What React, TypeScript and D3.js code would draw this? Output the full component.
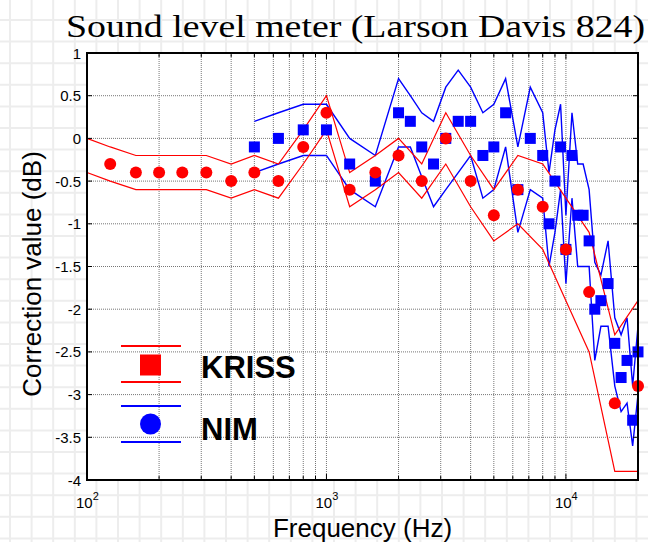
import React from "react";
import * as d3 from "d3";

// ---- KRISS (red) ----
const kFreq = [100, 125, 160, 200, 250, 315, 400, 500, 630, 800, 1000, 1250, 1600, 2000, 2500, 3150, 4000, 5000, 6300, 8000, 10000, 12500, 16000, 20000];
const kValue: (number | null)[] = [null, -0.3, -0.4, -0.4, -0.4, -0.4, -0.5, -0.4, -0.5, -0.1, 0.3, -0.6, -0.4, -0.2, -0.5, 0.0, -0.5, -0.9, -0.6, -0.8, -1.3, -1.8, -3.1, -2.9];
const kUpper = [0.0, -0.1, -0.2, -0.2, -0.2, -0.2, -0.3, -0.2, -0.3, 0.1, 0.5, -0.4, -0.2, 0.0, -0.3, 0.3, -0.2, -0.6, -0.2, -0.3, -0.7, -1.1, -2.3, -1.9];
const kLower = [-0.4, -0.5, -0.6, -0.6, -0.6, -0.6, -0.7, -0.6, -0.7, -0.3, 0.1, -0.8, -0.6, -0.4, -0.7, -0.3, -0.8, -1.2, -1.0, -1.3, -1.9, -2.5, -3.9, -3.9];

// ---- NIM (blue) ----
const nFreq = [500, 630, 800, 1000, 1250, 1600, 2000, 2240, 2500, 2800, 3150, 3550, 4000, 4500, 5000, 5600, 6300, 7100, 8000, 8500, 9000, 9500, 10000, 10600, 11200, 11800, 12500, 13200, 14000, 15000, 16000, 17000, 18000, 19000, 20000];
const nValue = [-0.1, 0.0, 0.1, 0.1, -0.3, -0.5, 0.3, 0.2, -0.1, -0.3, 0.0, 0.2, 0.2, -0.2, -0.1, 0.3, -0.6, 0.0, -0.2, -1.0, -0.5, -0.1, -1.3, -0.2, -0.9, -0.9, -1.2, -2.0, -1.9, -1.7, -2.4, -2.8, -2.6, -3.3, -2.5];
const nUpper = [0.2, 0.3, 0.4, 0.4, 0.0, -0.2, 0.7, 0.5, 0.3, 0.2, 0.6, 0.8, 0.6, 0.3, 0.4, 0.7, -0.1, 0.6, 0.3, -0.4, 0.1, 0.4, -0.9, 0.3, -0.3, -0.3, -0.6, -1.45, -1.6, -1.2, -2.1, -2.3, -2.1, -2.9, -2.2];
const nLower = [-0.4, -0.3, -0.2, -0.2, -0.6, -0.8, -0.1, -0.1, -0.45, -0.8, -0.6, -0.4, -0.2, -0.7, -0.6, -0.1, -1.1, -0.6, -0.7, -1.5, -1.1, -0.6, -1.7, -0.7, -1.5, -1.5, -1.5, -2.6, -2.2, -2.2, -2.9, -3.2, -3.1, -3.6, -3.0];

const yTicks = [1, 0.5, 0, -0.5, -1, -1.5, -2, -2.5, -3, -3.5, -4];
const xMajor = [100, 1000, 10000];
const xExp = ["2", "3", "4"];

const TITLE = "Sound level meter (Larson Davis 824)";
const XLABEL = "Frequency (Hz)";
const YLABEL = "Correction value (dB)";
const LEG1 = "KRISS";
const LEG2 = "NIM";

const W = 648, H = 542;
const L = 87, R = 638, T = 53, B = 480;

export default function App() {
  const x = d3.scaleLog().domain([100, 20000]).range([L, R]);
  const y = d3.scaleLinear().domain([-4, 1]).range([B, T]);

  const minor: number[] = [];
  for (const dec of [100, 1000, 10000]) {
    for (let m = 1; m <= 9; m++) {
      const v = dec * m;
      if (v <= 20000) minor.push(v);
    }
  }
  minor.push(20000);

  const line = d3
    .line<[number, number]>()
    .x((d) => x(d[0]))
    .y((d) => y(d[1]));

  const kU = line(kFreq.map((f, i) => [f, kUpper[i]]));
  const kL = line(kFreq.map((f, i) => [f, kLower[i]]));
  const nU = line(nFreq.map((f, i) => [f, nUpper[i]]));
  const nL = line(nFreq.map((f, i) => [f, nLower[i]]));

  // background paper grid
  const bgV: number[] = [];
  for (let gx = 10; gx < W; gx += 21.6) bgV.push(gx);
  const bgH: number[] = [];
  for (let gy = 20; gy < H; gy += 21.6) bgH.push(gy);

  const sq = 11;
  const cr = 6;

  return (
    <svg
      width={W}
      height={H}
      style={{ position: "absolute", left: 0, top: 0, background: "#fff" }}
      fontFamily="'Liberation Sans', Arial, sans-serif"
    >
      <g stroke="#ededed" strokeWidth={2}>
        {bgV.map((g, i) => (
          <line key={"bv" + i} x1={g} x2={g} y1={0} y2={H} />
        ))}
        {bgH.map((g, i) => (
          <line key={"bh" + i} x1={0} x2={W} y1={g} y2={g} />
        ))}
      </g>
      <rect x={L} y={T} width={R - L} height={B - T} fill="#fff" />

      {/* grid */}
      <g stroke="#555" strokeWidth={1} strokeDasharray="1 1" opacity={0.8}>
        {minor
          .filter((f) => f > 100 && f < 20000)
          .map((f, i) => (
            <line key={"gv" + i} x1={x(f)} x2={x(f)} y1={T} y2={B} />
          ))}
        {yTicks
          .filter((v) => v > -4 && v < 1)
          .map((v, i) => (
            <line key={"gh" + i} x1={L} x2={R} y1={y(v)} y2={y(v)} />
          ))}
      </g>

      {/* band lines */}
      <path d={nU || ""} fill="none" stroke="#0000ff" strokeWidth={1.4} />
      <path d={nL || ""} fill="none" stroke="#0000ff" strokeWidth={1.4} />
      <path d={kU || ""} fill="none" stroke="#ff0000" strokeWidth={1.2} />
      <path d={kL || ""} fill="none" stroke="#ff0000" strokeWidth={1.2} />

      {/* markers */}
      {nFreq.map((f, i) => (
        <rect
          key={"ns" + i}
          x={x(f) - sq / 2}
          y={y(nValue[i]) - sq / 2}
          width={sq}
          height={sq}
          fill="#0000ff"
        />
      ))}
      {kFreq.map((f, i) =>
        kValue[i] === null ? null : (
          <circle key={"kc" + i} cx={x(f)} cy={y(kValue[i] as number)} r={cr} fill="#ff0000" />
        )
      )}

      {/* frame */}
      <rect x={L} y={T} width={R - L} height={B - T} fill="none" stroke="#000" strokeWidth={2} />

      {/* ticks */}
      <g stroke="#000" strokeWidth={1}>
        {minor.map((f, i) => {
          const len = xMajor.includes(f) ? 6 : 4;
          return (
            <g key={"xt" + i}>
              <line x1={x(f)} x2={x(f)} y1={B} y2={B - len} />
              <line x1={x(f)} x2={x(f)} y1={T} y2={T + len} />
            </g>
          );
        })}
        {yTicks.map((v, i) => (
          <g key={"yt" + i}>
            <line x1={L} x2={L + 5} y1={y(v)} y2={y(v)} />
            <line x1={R} x2={R - 5} y1={y(v)} y2={y(v)} />
          </g>
        ))}
      </g>

      {/* y tick labels */}
      <g fontSize={15} fill="#000" textAnchor="end">
        {yTicks.map((v, i) => (
          <text key={"yl" + i} x={L - 6} y={y(v) + 5.5}>
            {String(v)}
          </text>
        ))}
      </g>

      {/* x tick labels */}
      <g fontSize={15} fill="#000">
        {xMajor.map((f, i) => (
          <text key={"xl" + i} x={x(f) - 11} y={508}>
            10
            <tspan fontSize={11} dy={-8}>
              {xExp[i]}
            </tspan>
          </text>
        ))}
      </g>

      {/* title */}
      <text
        x={66}
        y={37}
        fontFamily="'Liberation Serif', 'DejaVu Serif', serif"
        fontSize={32}
        textLength={579}
        lengthAdjust="spacingAndGlyphs"
        fill="#000"
      >
        {TITLE}
      </text>

      {/* axis labels */}
      <text x={(L + R) / 2} y={537} fontSize={26} textAnchor="middle" fill="#000">
        {XLABEL}
      </text>
      <text
        transform={`translate(41, ${274}) rotate(-90)`}
        fontSize={26}
        textAnchor="middle"
        fill="#000"
      >
        {YLABEL}
      </text>

      {/* legend */}
      <g>
        <line x1={121} x2={181} y1={346} y2={346} stroke="#ff0000" strokeWidth={2} />
        <line x1={121} x2={181} y1={382} y2={382} stroke="#ff0000" strokeWidth={2} />
        <rect x={150.5 - 10.5} y={365 - 10.5} width={21} height={21} fill="#ff0000" />
        <line x1={121} x2={181} y1={406} y2={406} stroke="#0000ff" strokeWidth={2} />
        <line x1={121} x2={181} y1={442} y2={442} stroke="#0000ff" strokeWidth={2} />
        <circle cx={150.5} cy={424} r={10.5} fill="#0000ff" />
        <text x={201} y={378} fontSize={31} fontWeight="bold" fill="#000">
          {LEG1}
        </text>
        <text x={201} y={440} fontSize={31} fontWeight="bold" fill="#000">
          {LEG2}
        </text>
      </g>
    </svg>
  );
}
